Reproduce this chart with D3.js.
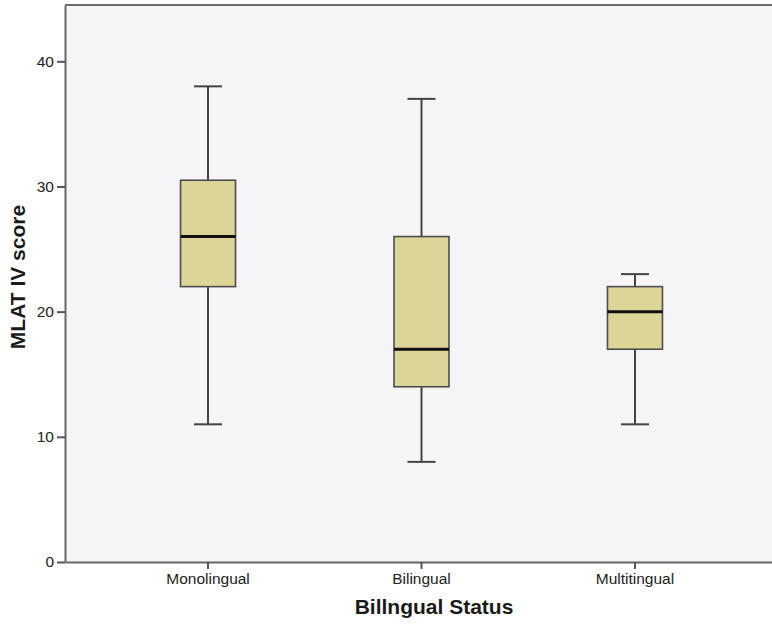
<!DOCTYPE html>
<html>
<head>
<meta charset="utf-8">
<script src="https://cdn.jsdelivr.net/npm/d3@7"></script>
<style>
  body { margin: 0; background: #fff; }
  svg { font-family: "Liberation Sans", Arial, sans-serif; display: block; }
</style>
</head>
<body>
<svg id="chart" width="772" height="624"></svg>
<script>
// box plot data
const groups = ["Monolingual", "Bilingual", "Multitingual"];
const whiskerLow = [11, 8, 11];
const q1 = [22, 14, 17];
const median = [26, 17, 20];
const q3 = [30.5, 26, 22];
const whiskerHigh = [38, 37, 23];
const yTicks = [0, 10, 20, 30, 40];

const svg = d3.select("#chart");
const plotLeft = 65, plotTop = 5, plotRight = 778, plotBottom = 562;

const x = d3.scaleBand().domain(groups).range([plotLeft, plotRight]).paddingOuter(0.17).paddingInner(0);
const y = d3.scaleLinear().domain([0, 44.5]).range([plotBottom, plotTop]);

const boxW = 55, capW = 28;

// plot background
svg.append("rect")
  .attr("x", plotLeft).attr("y", plotTop)
  .attr("width", plotRight - plotLeft).attr("height", plotBottom - plotTop)
  .attr("fill", "#f5f5f7");

// top border
svg.append("line")
  .attr("x1", plotLeft).attr("x2", plotRight).attr("y1", plotTop).attr("y2", plotTop)
  .attr("stroke", "#6b6b6b").attr("stroke-width", 2);

const data = groups.map((g, i) => ({
  g, lo: whiskerLow[i], q1: q1[i], med: median[i], q3: q3[i], hi: whiskerHigh[i]
}));

const box = svg.append("g").selectAll("g").data(data).join("g")
  .attr("transform", (d) => `translate(${x(d.g) + x.bandwidth() / 2},0)`);

// whiskers
box.append("line")
  .attr("y1", (d) => y(d.hi)).attr("y2", (d) => y(d.q3))
  .attr("stroke", "#444").attr("stroke-width", 2);
box.append("line")
  .attr("y1", (d) => y(d.q1)).attr("y2", (d) => y(d.lo))
  .attr("stroke", "#444").attr("stroke-width", 2);
box.append("line")
  .attr("x1", -capW / 2).attr("x2", capW / 2)
  .attr("y1", (d) => y(d.hi)).attr("y2", (d) => y(d.hi))
  .attr("stroke", "#444").attr("stroke-width", 2);
box.append("line")
  .attr("x1", -capW / 2).attr("x2", capW / 2)
  .attr("y1", (d) => y(d.lo)).attr("y2", (d) => y(d.lo))
  .attr("stroke", "#444").attr("stroke-width", 2);

// boxes
box.append("rect")
  .attr("x", -boxW / 2).attr("width", boxW)
  .attr("y", (d) => y(d.q3)).attr("height", (d) => y(d.q1) - y(d.q3))
  .attr("fill", "#dcd597").attr("stroke", "#4d4d4d").attr("stroke-width", 1.6);

// median
box.append("line")
  .attr("x1", -boxW / 2).attr("x2", boxW / 2)
  .attr("y1", (d) => y(d.med)).attr("y2", (d) => y(d.med))
  .attr("stroke", "#111").attr("stroke-width", 3);

//=== y axis ===
const yAxis = svg.append("g")
  .attr("transform", `translate(${plotLeft},0)`)
  .call(d3.axisLeft(y).tickValues(yTicks).tickSize(8).tickPadding(3).tickSizeOuter(0));
yAxis.select(".domain").attr("stroke", "#666").attr("stroke-width", 2);
yAxis.selectAll(".tick line").attr("stroke", "#555").attr("stroke-width", 2);
yAxis.selectAll(".tick text").attr("font-size", 15.5).attr("fill", "#222");

//=== x axis ===
const xAxis = svg.append("g")
  .attr("transform", `translate(0,${plotBottom})`)
  .call(d3.axisBottom(x).tickSize(7).tickPadding(4).tickSizeOuter(0));
xAxis.select(".domain").attr("stroke", "#666").attr("stroke-width", 2);
xAxis.selectAll(".tick line").attr("stroke", "#555").attr("stroke-width", 2);
xAxis.selectAll(".tick text").attr("font-size", 15.5).attr("fill", "#222");

// axis titles
svg.append("text")
  .attr("x", 434).attr("y", 614)
  .attr("text-anchor", "middle")
  .attr("font-size", 21).attr("font-weight", "bold").attr("fill", "#1a1a1a")
  .text("Billngual Status");

svg.append("text")
  .attr("transform", "translate(25,277) rotate(-90)")
  .attr("text-anchor", "middle")
  .attr("font-size", 21).attr("font-weight", "bold").attr("fill", "#1a1a1a")
  .text("MLAT IV score");
</script>
</body>
</html>
